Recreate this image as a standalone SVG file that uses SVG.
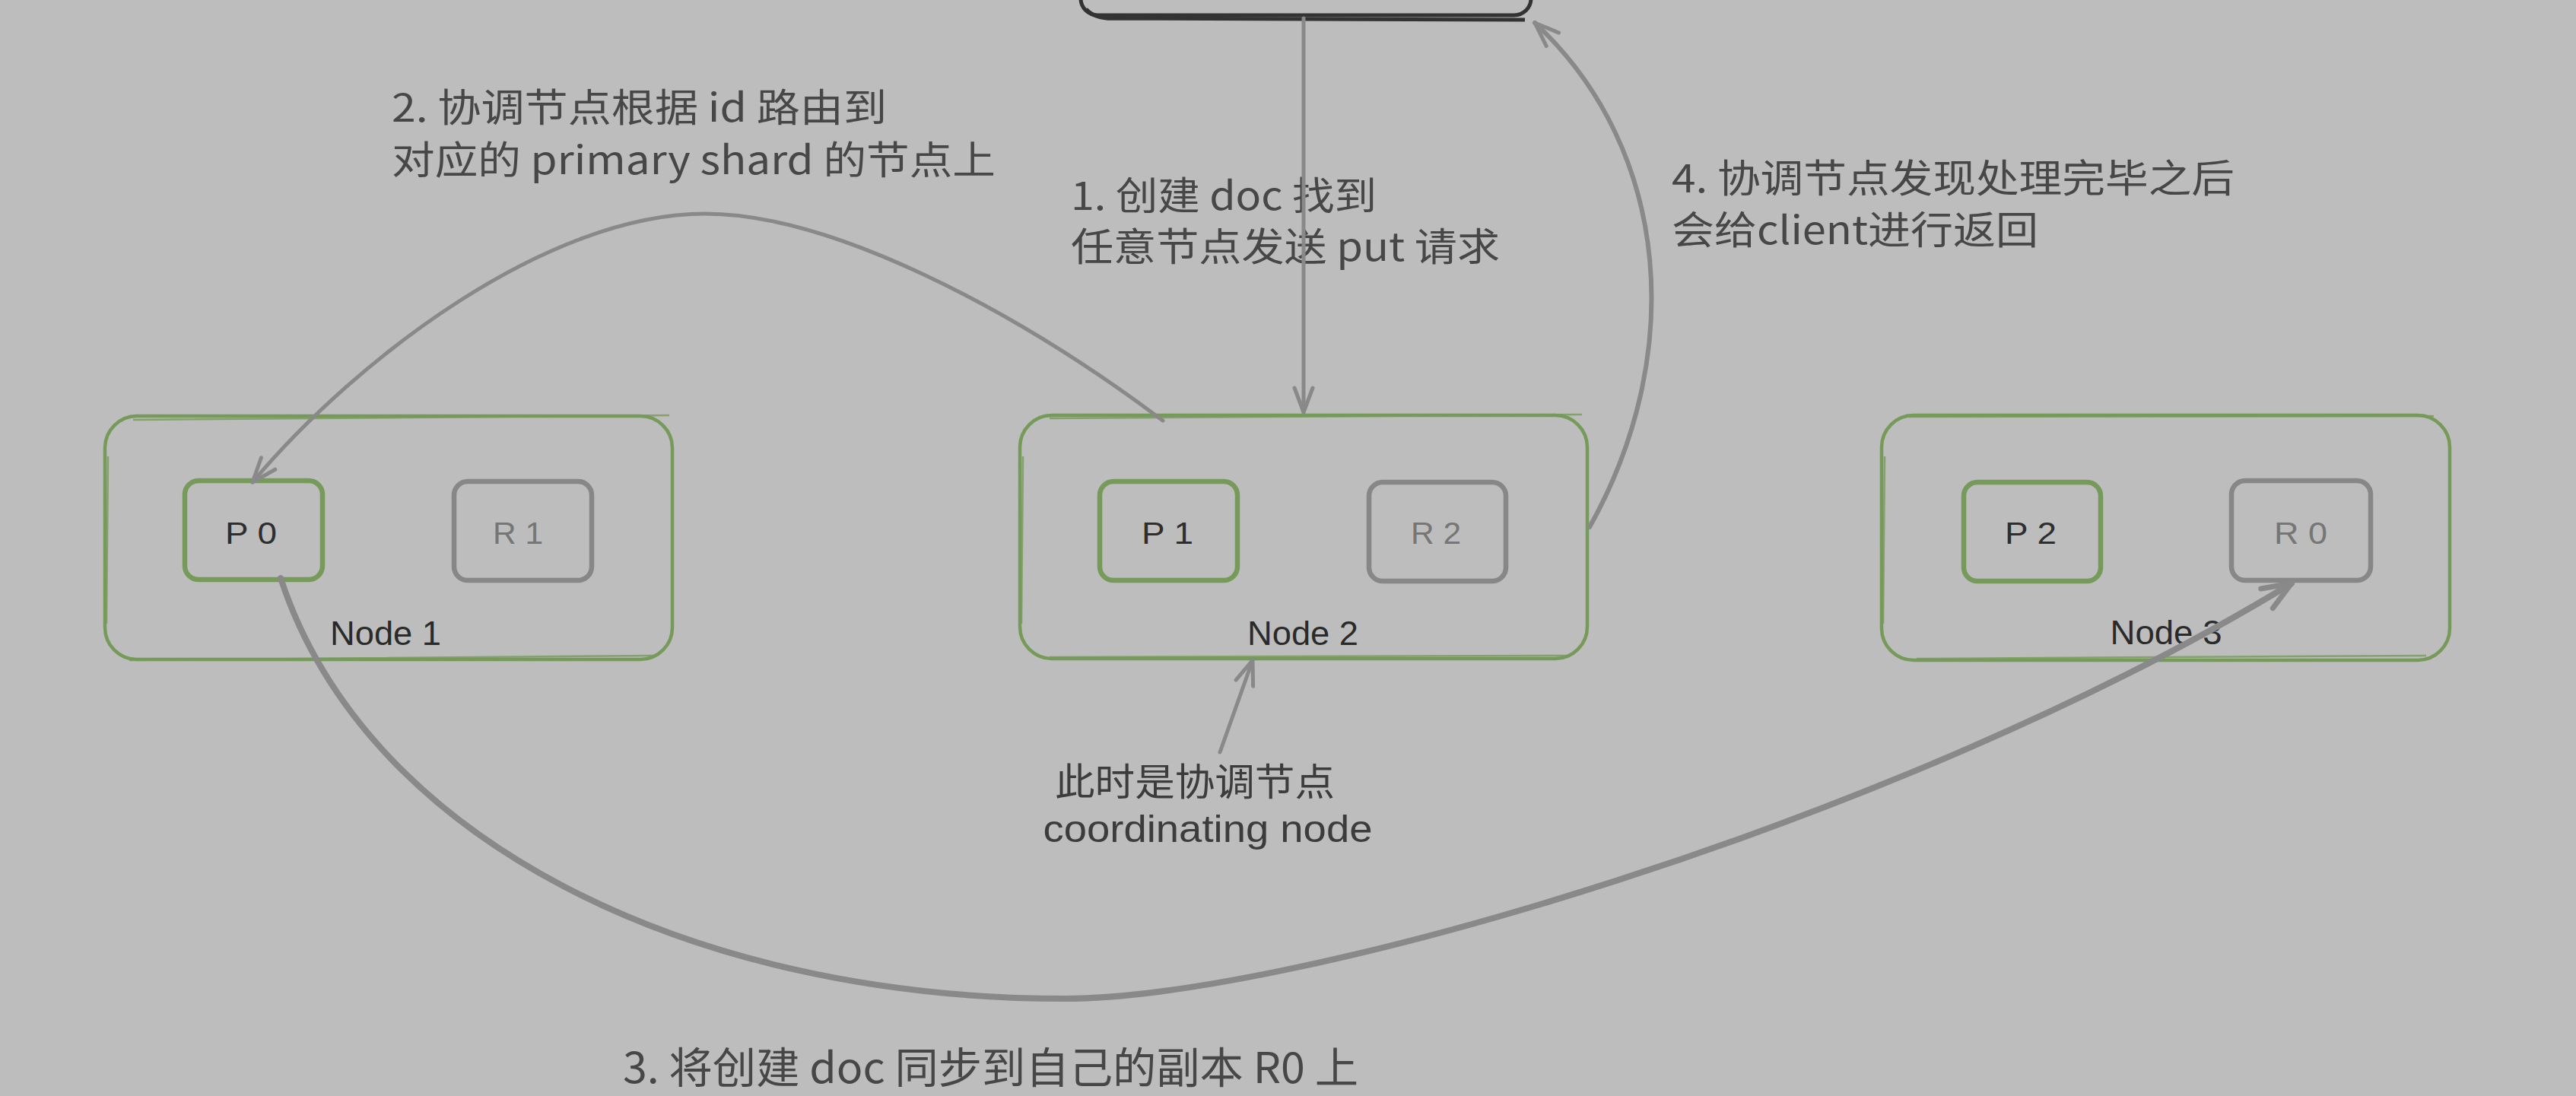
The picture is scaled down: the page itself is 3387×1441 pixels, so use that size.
<svg xmlns="http://www.w3.org/2000/svg" width="3387" height="1441" viewBox="0 0 3387 1441">
<style>
.node{fill:none;stroke:#769a5a;stroke-width:4.5;stroke-linejoin:round}
.node2{fill:none;stroke:#769a5a;stroke-width:2.5;opacity:.8}
.pbox{fill:none;stroke:#769a5a;stroke-width:6.5;stroke-linejoin:round}
.rbox{fill:none;stroke:#878787;stroke-width:6.5;stroke-linejoin:round}
.client{fill:none;stroke:#333;stroke-width:5}
.conn{fill:none;stroke:#898989;stroke-linecap:round;stroke-linejoin:round}
.lbl{font-family:"Noto Sans CJK SC","Noto Sans",sans-serif;font-size:51px;fill:#474747}
.lbl1{font-family:"Noto Sans CJK SC","Noto Sans",sans-serif;font-size:56px;fill:#474747}
.nlbl{font-family:"Liberation Sans","Noto Sans",sans-serif;font-size:44px;fill:#2a2a2a;text-anchor:middle}
.plbl{font-family:"Liberation Sans","Noto Sans",sans-serif;font-size:40px;fill:#2e2e2e;text-anchor:middle}
.rlbl{font-family:"Liberation Sans","Noto Sans",sans-serif;font-size:40px;fill:#767676;text-anchor:middle}
.hand{font-family:"Liberation Sans","Noto Sans CJK SC",sans-serif;font-size:50px;fill:#3c3c3c;text-anchor:middle}
</style>
<defs>
<marker id="ah" markerUnits="userSpaceOnUse" orient="auto" overflow="visible" refX="0" refY="0" markerWidth="40" markerHeight="40">
<path d="M-32,-12 L0,0 L-32,12" fill="none" stroke="#898989" stroke-width="5" stroke-linecap="round" stroke-linejoin="round"/>
</marker>
<marker id="ahBig" markerUnits="userSpaceOnUse" orient="auto" overflow="visible" refX="0" refY="0" markerWidth="50" markerHeight="50">
<path d="M-38,-15 L0,0 L-38,15" fill="none" stroke="#898989" stroke-width="7" stroke-linecap="round" stroke-linejoin="round"/>
</marker>
</defs>
<rect x="0" y="0" width="3387" height="1441" fill="#bdbdbd"/>

<g id="client">
<rect class="client" x="1421" y="-120" width="592" height="140" rx="22"/>
<path class="client" d="M1428,12 Q1440,26 1470,24 L2005,26" stroke-width="2.5"/>
</g>

<g id="node1">
<rect class="node" x="138" y="547" width="746" height="320" rx="42"/>
<path class="node2" d="M175,552 L880,546 M142,600 L140,820 M170,868 L860,862"/>
<rect class="pbox" x="243" y="632" width="181" height="130" rx="18"/>
<text class="plbl" x="330" y="715" textLength="68" lengthAdjust="spacingAndGlyphs">P 0</text>
<rect class="rbox" x="597" y="633" width="181" height="130" rx="18"/>
<text class="rlbl" x="681" y="715" textLength="66" lengthAdjust="spacingAndGlyphs">R 1</text>
<text class="nlbl" x="507" y="848" textLength="146" lengthAdjust="spacingAndGlyphs">Node 1</text>
</g>

<g id="node2">
<rect class="node" x="1341" y="546" width="746" height="320" rx="42"/>
<path class="node2" d="M1380,550 L2080,545 M1345,600 L1343,820 M1380,864 L2060,862"/>
<rect class="pbox" x="1446" y="633" width="181" height="130" rx="18"/>
<text class="plbl" x="1535" y="715" textLength="68" lengthAdjust="spacingAndGlyphs">P 1</text>
<rect class="rbox" x="1800" y="634" width="180" height="130" rx="18"/>
<text class="rlbl" x="1888" y="715" textLength="66" lengthAdjust="spacingAndGlyphs">R 2</text>
<text class="nlbl" x="1713" y="848" textLength="146" lengthAdjust="spacingAndGlyphs">Node 2</text>
</g>

<g id="node3">
<rect class="node" x="2474" y="546" width="747" height="322" rx="42"/>
<path class="node2" d="M2510,548 L3200,547 M2478,600 L2476,820 M2520,866 L3190,862"/>
<rect class="pbox" x="2582" y="634" width="180" height="130" rx="18"/>
<text class="plbl" x="2670" y="715" textLength="68" lengthAdjust="spacingAndGlyphs">P 2</text>
<rect class="rbox" x="2934" y="632" width="183" height="131" rx="18"/>
<text class="rlbl" x="3025" y="715" textLength="70" lengthAdjust="spacingAndGlyphs">R 0</text>
<text class="nlbl" x="2848" y="847" textLength="147" lengthAdjust="spacingAndGlyphs">Node 3</text>
</g>

<g id="labels">
<text class="lbl"><tspan x="515" y="160" textLength="651" lengthAdjust="spacingAndGlyphs">2. 协调节点根据 id 路由到</tspan><tspan x="515" y="229" textLength="794" lengthAdjust="spacingAndGlyphs">对应的 primary shard 的节点上</tspan></text>
<text class="lbl"><tspan x="1408" y="276" textLength="402" lengthAdjust="spacingAndGlyphs">1. 创建 doc 找到</tspan><tspan x="1408" y="343" textLength="564" lengthAdjust="spacingAndGlyphs">任意节点发送 put 请求</tspan></text>
<text class="lbl"><tspan x="2198" y="253" textLength="740" lengthAdjust="spacingAndGlyphs">4. 协调节点发现处理完毕之后</tspan><tspan x="2198" y="321" textLength="482" lengthAdjust="spacingAndGlyphs">会给client进行返回</tspan></text>
<text class="lbl1" x="819" y="1424" textLength="967" lengthAdjust="spacingAndGlyphs">3. 将创建 doc 同步到自己的副本 R0 上</text>
<text class="hand"><tspan x="1571" y="1046" textLength="368" lengthAdjust="spacingAndGlyphs">此时是协调节点</tspan><tspan x="1588" y="1107" textLength="433" lengthAdjust="spacingAndGlyphs">coordinating node</tspan></text>
</g>

<g id="connectors">
<path class="conn" stroke-width="5" d="M1714,24 L1714,542" marker-end="url(#ah)"/>
<path class="conn" stroke-width="5" d="M1529,553 C1329,403 1090,281 927,281 C720,281 470,470 332,634" marker-end="url(#ah)"/>
<path class="conn" stroke-width="8" d="M369,760 C480,1100 900,1313 1400,1313 C1700,1313 2500,1080 3013,767" marker-end="url(#ahBig)"/>
<path class="conn" stroke-width="6" d="M2090,693 C2215,470 2200,200 2018,30" marker-end="url(#ah)"/>
<path class="conn" stroke-width="5" d="M1604,989 L1647,868" marker-end="url(#ah)"/>
</g>
</svg>
